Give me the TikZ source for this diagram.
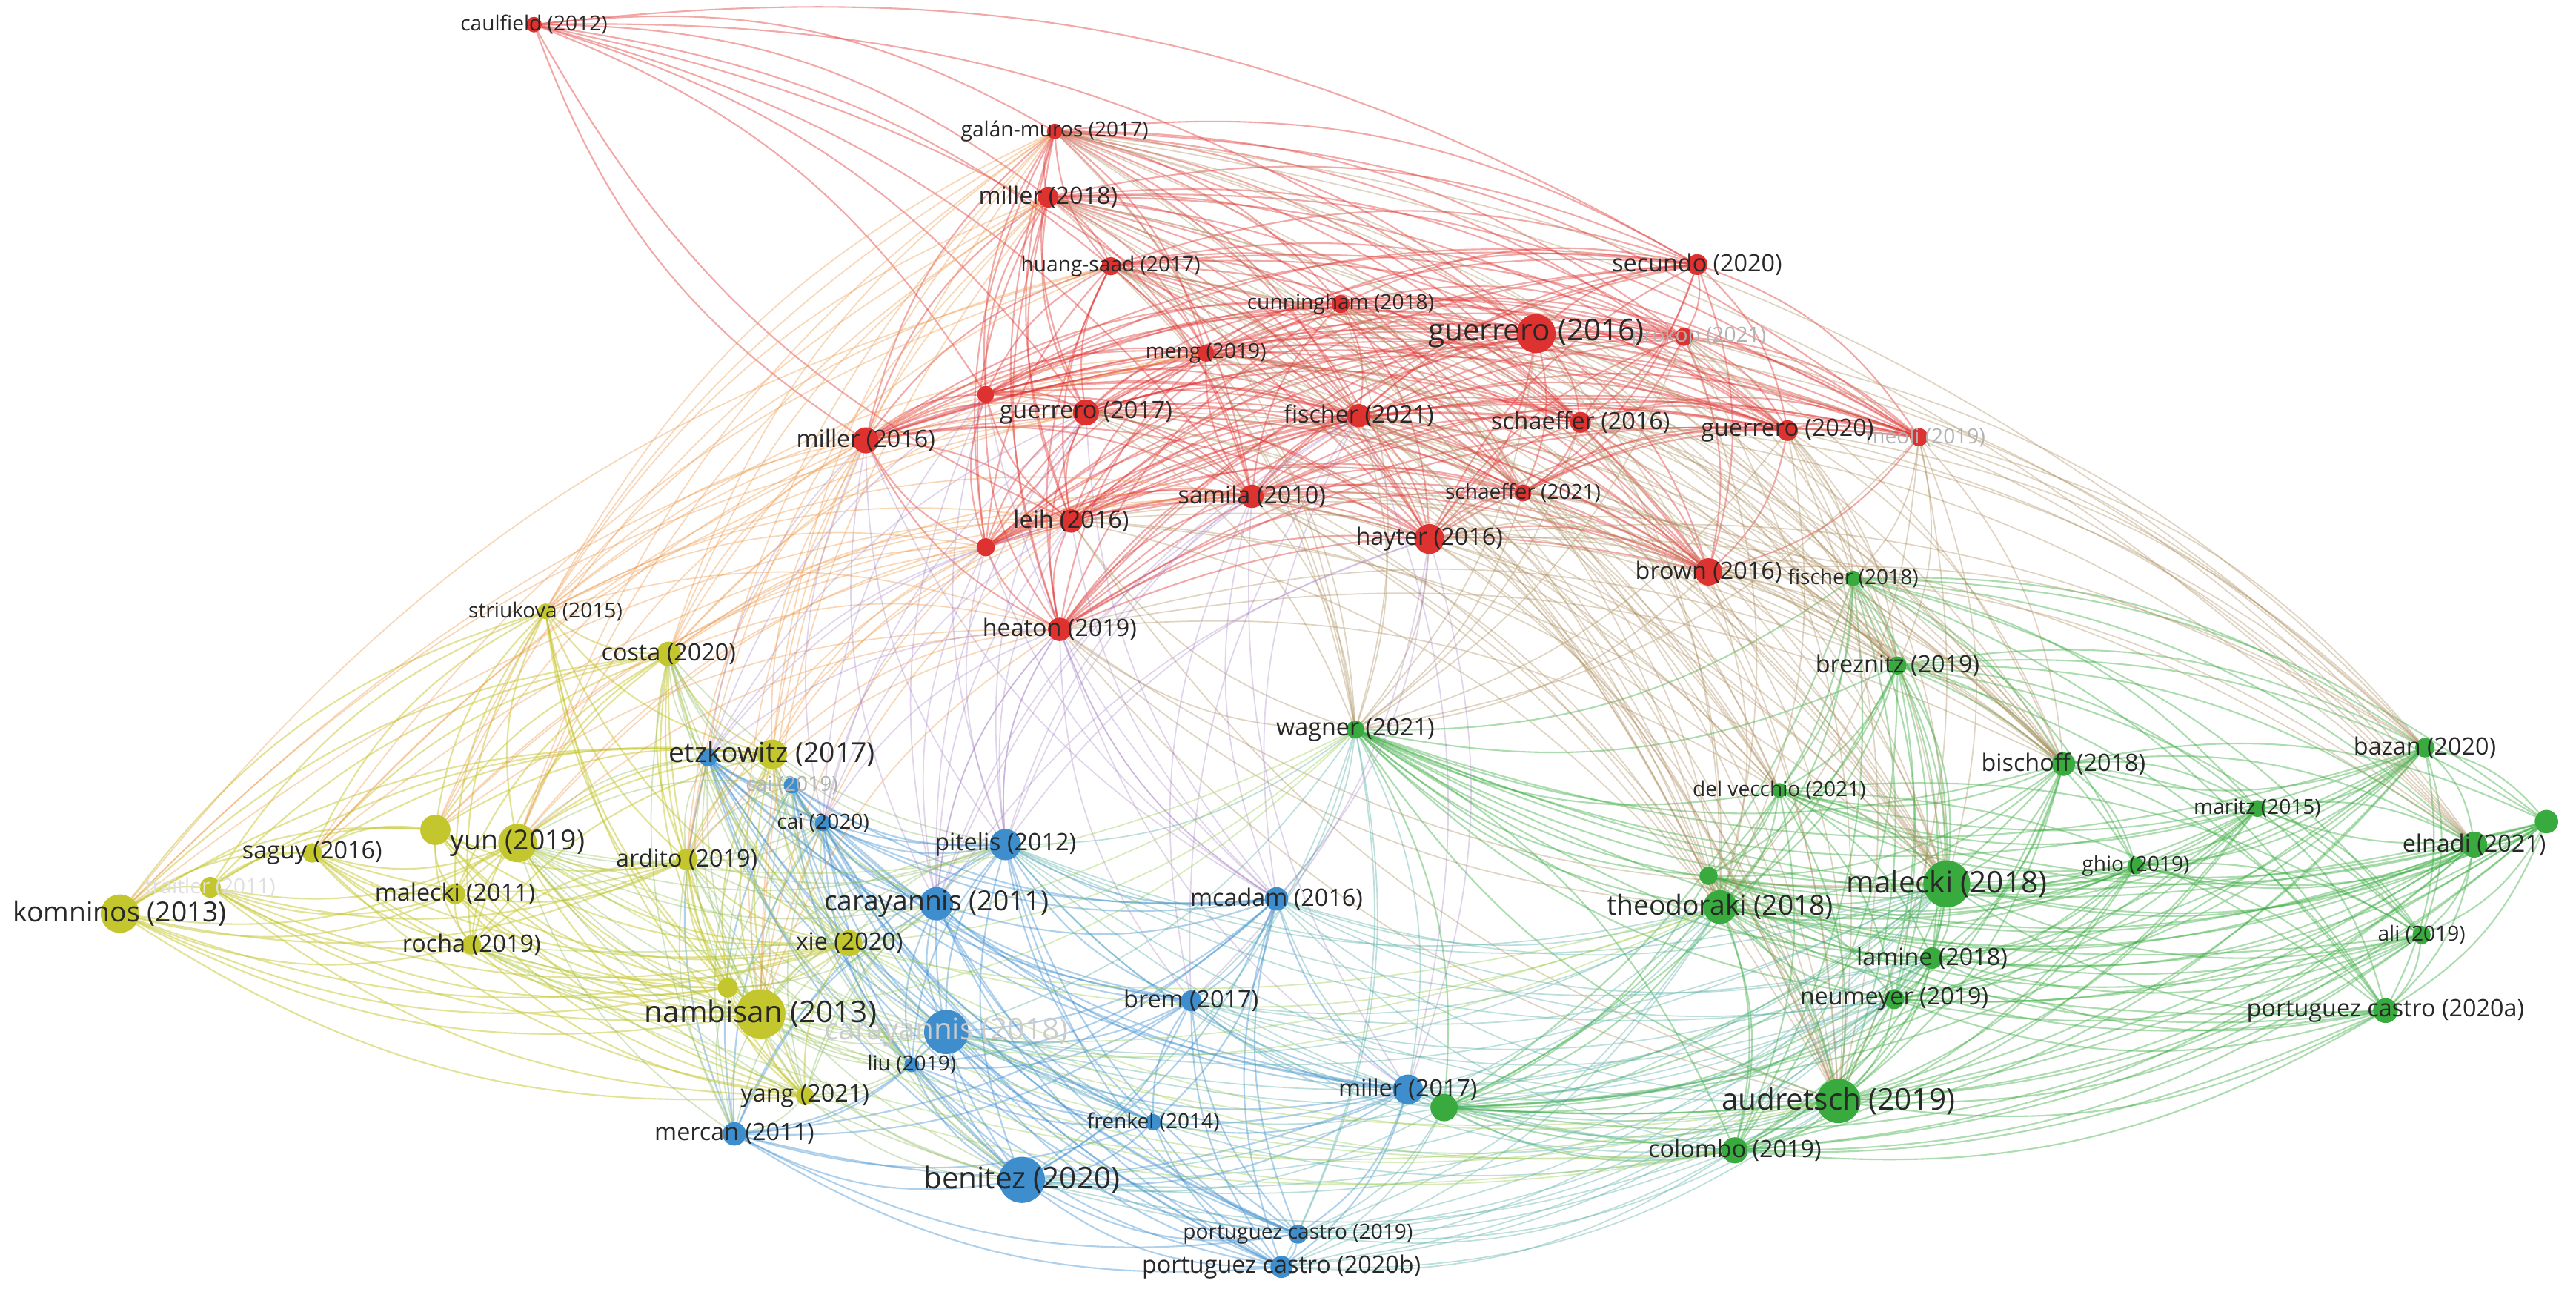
\documentclass[tikz,border=0pt]{standalone}
\usepackage{fontspec}
\setmainfont{Open Sans}
\usepackage{tikz}
\usetikzlibrary{calc}
\definecolor{vosred}{RGB}{222,50,48}
\definecolor{vosgreen}{RGB}{56,170,62}
\definecolor{vosblue}{RGB}{62,142,206}
\definecolor{vosyellow}{RGB}{196,198,46}
\definecolor{vosbrown}{RGB}{172,140,92}
\definecolor{vosteal}{RGB}{80,172,160}
\definecolor{vosolive}{RGB}{150,190,110}
\definecolor{vosorange}{RGB}{236,150,70}
\definecolor{vospurple}{RGB}{160,122,190}
\definecolor{voslime}{RGB}{150,200,70}
\definecolor{labelgray}{RGB}{40,40,40}
\pgfdeclarelayer{background}
\pgfsetlayers{background,main}
% one curved link, bowing away from the middle of the map
\newcommand{\linkarc}[3]{%
  \draw[#1] let \p1=(#2), \p2=(#3), \p3=(mid),
    \n1={((\x2-\x1)/100)*((\y3-\y1)/100)-((\y2-\y1)/100)*((\x3-\x1)/100)},
    \n2={ifthenelse(\n1<0,18,-18)} in (#2) to[bend left=\n2] (#3);}
\newcommand{\meshlinks}[2]{%
  \foreach \a [count=\i] in {#2}{%
    \foreach \b [count=\j] in {#2}{%
      \ifnum\j>\i\relax\linkarc{#1}{\a}{\b}\fi}}}
\newcommand{\crosslinks}[3]{%
  \foreach \a in {#2}{\foreach \b in {#3}{\linkarc{#1}{\a}{\b}}}}

\begin{document}
\begin{tikzpicture}[x=0.022168cm,y=-0.022168cm,
  paper/.style={circle,inner sep=0pt,outer sep=0pt,minimum size=#1},
  rdot/.style={paper=#1,fill=vosred},
  gdot/.style={paper=#1,fill=vosgreen},
  bdot/.style={paper=#1,fill=vosblue},
  ydot/.style={paper=#1,fill=vosyellow},
  lbl/.style={text=labelgray,inner sep=0pt},
  lblXL/.style={lbl,font=\fontsize{11.5}{13}\selectfont},
  lblL/.style={lbl,font=\fontsize{10.6}{12}\selectfont},
  lblM/.style={lbl,font=\fontsize{9.2}{11}\selectfont},
  lblS/.style={lbl,font=\fontsize{8}{10}\selectfont},
  faint/.style={text=gray!60},
  rlink/.style={draw=vosred,opacity=.42,line width=.6pt},
  glink/.style={draw=vosgreen,opacity=.42,line width=.6pt},
  blink/.style={draw=vosblue,opacity=.42,line width=.6pt},
  ylink/.style={draw=vosyellow,opacity=.5,line width=.6pt},
  rglink/.style={draw=vosbrown,opacity=.38,line width=.5pt},
  bglink/.style={draw=vosteal,opacity=.38,line width=.5pt},
  yblink/.style={draw=vosolive,opacity=.42,line width=.5pt},
  yrlink/.style={draw=vosorange,opacity=.38,line width=.5pt},
  rblink/.style={draw=vospurple,opacity=.32,line width=.5pt},
  gylink/.style={draw=voslime,opacity=.38,line width=.5pt}]
\useasboundingbox (0,0) rectangle (1568,788);
\coordinate (mid) at (800,420);

% red cluster
\node[rdot=6pt] (caulfield) at (325,15) {};
\node[rdot=6pt] (galan) at (642,80) {};
\node[rdot=8pt] (millerA) at (638,120) {};
\node[rdot=7pt] (huang) at (676,162) {};
\node[rdot=7pt] (cunning) at (816,185) {};
\node[rdot=15pt] (guer16) at (935,203) {};
\node[rdot=8pt] (secundo) at (1033,161) {};
\node[rdot=7pt] (prokop) at (1025,205) {};
\node[rdot=6.5pt] (meng) at (734,215) {};
\node[rdot=6.5pt] (redX1) at (600,240) {};
\node[rdot=10pt] (guer17) at (661,251) {};
\node[rdot=9pt] (fisch21) at (827,253) {};
\node[rdot=8pt] (schaef16) at (962,257) {};
\node[rdot=8pt] (guer20) at (1088,262) {};
\node[rdot=7pt] (meoli) at (1168,266) {};
\node[rdot=10pt] (miller16) at (527,268) {};
\node[rdot=9pt] (samila) at (762,302) {};
\node[rdot=6.5pt] (schaef21) at (927,300) {};
\node[rdot=9pt] (leih) at (652,317) {};
\node[rdot=7pt] (redX2) at (600,333) {};
\node[rdot=11.5pt] (hayter) at (870,328) {};
\node[rdot=10.5pt] (brown) at (1040,348) {};
\node[rdot=9pt] (heaton) at (645,383) {};

% green cluster
\node[gdot=6pt] (fisch18) at (1128,352) {};
\node[gdot=7pt] (breznitz) at (1155,405) {};
\node[gdot=7pt] (wagner) at (825,444) {};
\node[gdot=9pt] (bischoff) at (1256,465) {};
\node[gdot=7.5pt] (bazan) at (1476,455) {};
\node[gdot=5.7pt] (delvec) at (1083,481) {};
\node[gdot=6.5pt] (maritz) at (1374,492) {};
\node[gdot=9pt] (grnX) at (1550,500) {};
\node[gdot=10pt] (elnadi) at (1506,514) {};
\node[gdot=6.5pt] (ghio) at (1300,527) {};
\node[gdot=18pt] (malecki18) at (1185,538) {};
\node[gdot=7pt] (theodX) at (1040,533) {};
\node[gdot=13pt] (theod) at (1047,552) {};
\node[gdot=8.3pt] (lamine) at (1176,583) {};
\node[gdot=7pt] (ali) at (1474,569) {};
\node[gdot=7.7pt] (neumeyer) at (1153,608) {};
\node[gdot=9.5pt] (pcastroA) at (1452,615) {};
\node[gdot=17pt] (audretsch) at (1119,670) {};
\node[gdot=10pt] (colombo) at (1056,700) {};
\node[gdot=10.5pt] (miller17g) at (879,674) {};

% blue cluster
\node[bdot=7pt] (etzkB) at (431,461) {};
\node[bdot=6.3pt] (cai19) at (482,478) {};
\node[bdot=6.3pt] (cai20) at (501,501) {};
\node[bdot=12pt] (pitelis) at (612,514) {};
\node[bdot=12.8pt] (caray11) at (570,550) {};
\node[bdot=17pt] (caray18) at (576,628) {};
\node[bdot=5.7pt] (liu) at (555,648) {};
\node[bdot=9pt] (mercan) at (447,690) {};
\node[bdot=9pt] (mcadam) at (777,547) {};
\node[bdot=8pt] (brem) at (725,609) {};
\node[bdot=6.3pt] (frenkel) at (702,683) {};
\node[bdot=17.7pt] (benitez) at (622,718) {};
\node[bdot=7.4pt] (pcastro19) at (790,751) {};
\node[bdot=8.5pt] (pcastroB) at (780,771) {};
\node[bdot=11.5pt] (miller17) at (857,663) {};

% yellow cluster
\node[ydot=11.4pt] (etzk) at (470,459) {};
\node[ydot=6pt] (striukova) at (332,372) {};
\node[ydot=9.5pt] (costa) at (407,398) {};
\node[ydot=11.6pt] (yunX) at (265,505) {};
\node[ydot=14.8pt] (yun) at (315,513) {};
\node[ydot=7.5pt] (saguy) at (190,519) {};
\node[ydot=8pt] (traitler) at (128,540) {};
\node[ydot=14.8pt] (komninos) at (73,556) {};
\node[ydot=8pt] (malecki11) at (277,544) {};
\node[ydot=7.5pt] (rocha) at (287,575) {};
\node[ydot=8.3pt] (ardito) at (418,523) {};
\node[ydot=10pt] (xie) at (517,574) {};
\node[ydot=7.7pt] (nambX) at (443,601) {};
\node[ydot=19pt] (nambisan) at (463,617) {};
\node[ydot=7pt] (yang) at (490,667) {};

% links
\begin{pgfonlayer}{background}
\meshlinks{rlink}{galan,millerA,huang,cunning,guer16,secundo,prokop,meng,redX1,guer17,fisch21,schaef16,guer20,meoli,miller16,samila,schaef21,leih,redX2,hayter,brown,heaton}
\crosslinks{rlink}{caulfield}{galan,millerA,miller16,guer16,secundo,guer17,leih,hayter,samila,meng,redX1}
\meshlinks{glink}{fisch18,breznitz,wagner,bischoff,bazan,delvec,maritz,grnX,elnadi,ghio,malecki18,theod,theodX,lamine,ali,neumeyer,pcastroA,audretsch,colombo,miller17g}
\meshlinks{blink}{etzkB,cai19,cai20,pitelis,caray11,caray18,liu,mercan,mcadam,brem,frenkel,benitez,pcastro19,pcastroB,miller17}
\meshlinks{ylink}{etzk,striukova,costa,yun,yunX,saguy,traitler,komninos,malecki11,rocha,ardito,xie,nambisan,nambX,yang}
\crosslinks{rglink}{guer16,guer20,meoli,brown,hayter,schaef16,prokop,galan}{fisch18,breznitz,bischoff,bazan,elnadi,malecki18,theod,audretsch,wagner}
\crosslinks{rglink}{heaton,samila,fisch21,schaef21,leih,meng,cunning,guer17,huang,millerA}{wagner,theod,malecki18,delvec,audretsch,breznitz,bischoff}
\crosslinks{bglink}{benitez,pcastro19,pcastroB,brem,mcadam,miller17,caray18,pitelis}{audretsch,colombo,miller17g,theod,malecki18,wagner,lamine,neumeyer}
\crosslinks{yblink}{etzk,yun,nambisan,xie,ardito,costa,yang,nambX}{etzkB,cai19,cai20,pitelis,caray11,caray18,liu,mercan,benitez}
\crosslinks{yrlink}{etzk,costa,striukova,yun,yunX,nambisan,ardito}{miller16,leih,heaton,redX2,galan,millerA}
\crosslinks{yrlink}{striukova,costa,komninos,saguy}{guer17,meng,huang,samila}
\crosslinks{rblink}{miller16,redX1,redX2,leih,heaton,guer17}{pitelis,caray11,etzkB,mcadam,cai20}
\crosslinks{rblink}{mcadam,brem,pitelis,caray11,miller17}{hayter,heaton,samila,fisch21}
\crosslinks{gylink}{wagner,audretsch,colombo,theod}{nambisan,yun,xie,rocha}
\end{pgfonlayer}

% labels
\node[lblS] (caulfield-t) at (caulfield) {caulfield (2012)};
\node[lblS] (galan-t) at (galan) {galán-muros (2017)};
\node[lblM] (millerA-t) at (millerA) {miller (2018)};
\node[lblS] (huang-t) at (huang) {huang-saad (2017)};
\node[lblS] (cunning-t) at (cunning) {cunningham (2018)};
\node[lblS,faint] (prokop-t) at (1034,205) {prokop (2021)};
\node[lblXL] (guer16-t) at (guer16) {guerrero (2016)};
\node[lblM] (secundo-t) at (secundo) {secundo (2020)};
\node[lblS] (meng-t) at (meng) {meng (2019)};
\node[lblM] (guer17-t) at (guer17) {guerrero (2017)};
\node[lblM] (fisch21-t) at (fisch21) {fischer (2021)};
\node[lblM] (schaef16-t) at (schaef16) {schaeffer (2016)};
\node[lblS,faint] (meoli-t) at (1172,266) {meoli (2019)};
\node[lblM] (guer20-t) at (guer20) {guerrero (2020)};
\node[lblM] (miller16-t) at (miller16) {miller (2016)};
\node[lblM] (samila-t) at (samila) {samila (2010)};
\node[lblS] (schaef21-t) at (schaef21) {schaeffer (2021)};
\node[lblM] (leih-t) at (leih) {leih (2016)};
\node[lblM] (hayter-t) at (hayter) {hayter (2016)};
\node[lblM] (brown-t) at (brown) {brown (2016)};
\node[lblM] (heaton-t) at (heaton) {heaton (2019)};
\node[lblS] (fisch18-t) at (fisch18) {fischer (2018)};
\node[lblM] (breznitz-t) at (breznitz) {breznitz (2019)};
\node[lblM] (wagner-t) at (wagner) {wagner (2021)};
\node[lblM] (bischoff-t) at (bischoff) {bischoff (2018)};
\node[lblM] (bazan-t) at (bazan) {bazan (2020)};
\node[lblS] (delvec-t) at (delvec) {del vecchio (2021)};
\node[lblS] (maritz-t) at (maritz) {maritz (2015)};
\node[lblM] (elnadi-t) at (elnadi) {elnadi (2021)};
\node[lblS] (ghio-t) at (ghio) {ghio (2019)};
\node[lblXL] (malecki18-t) at (malecki18) {malecki (2018)};
\node[lblL] (theod-t) at (theod) {theodoraki (2018)};
\node[lblM] (lamine-t) at (lamine) {lamine (2018)};
\node[lblS] (ali-t) at (ali) {ali (2019)};
\node[lblM] (neumeyer-t) at (neumeyer) {neumeyer (2019)};
\node[lblM] (pcastroA-t) at (pcastroA) {portuguez castro (2020a)};
\node[lblXL] (audretsch-t) at (audretsch) {audretsch (2019)};
\node[lblM] (colombo-t) at (colombo) {colombo (2019)};
\node[lblS,faint] (cai19-t) at (cai19) {cai (2019)};
\node[lblS] (cai20-t) at (cai20) {cai (2020)};
\node[lblM] (pitelis-t) at (pitelis) {pitelis (2012)};
\node[lblL] (caray11-t) at (caray11) {carayannis (2011)};
\node[lblXL,text=gray!40] (caray18-t) at (caray18) {carayannis (2018)};
\node[lblS] (liu-t) at (liu) {liu (2019)};
\node[lblM] (mercan-t) at (mercan) {mercan (2011)};
\node[lblM] (mcadam-t) at (mcadam) {mcadam (2016)};
\node[lblM] (brem-t) at (brem) {brem (2017)};
\node[lblS] (frenkel-t) at (frenkel) {frenkel (2014)};
\node[lblXL] (benitez-t) at (benitez) {benitez (2020)};
\node[lblS] (pcastro19-t) at (pcastro19) {portuguez castro (2019)};
\node[lblM] (pcastroB-t) at (pcastroB) {portuguez castro (2020b)};
\node[lblM] (miller17-t) at (miller17) {miller (2017)};
\node[lblL] (etzk-t) at (etzk) {etzkowitz (2017)};
\node[lblS] (striukova-t) at (striukova) {striukova (2015)};
\node[lblM] (costa-t) at (costa) {costa (2020)};
\node[lblL] (yun-t) at (yun) {yun (2019)};
\node[lblM] (saguy-t) at (saguy) {saguy (2016)};
\node[lblS,text=gray!25] (traitler-t) at (traitler) {traitler (2011)};
\node[lblL] (komninos-t) at (komninos) {komninos (2013)};
\node[lblM] (malecki11-t) at (malecki11) {malecki (2011)};
\node[lblM] (rocha-t) at (rocha) {rocha (2019)};
\node[lblM] (ardito-t) at (ardito) {ardito (2019)};
\node[lblM] (xie-t) at (xie) {xie (2020)};
\node[lblXL] (nambisan-t) at (nambisan) {nambisan (2013)};
\node[lblM] (yang-t) at (yang) {yang (2021)};
\end{tikzpicture}
\end{document}
